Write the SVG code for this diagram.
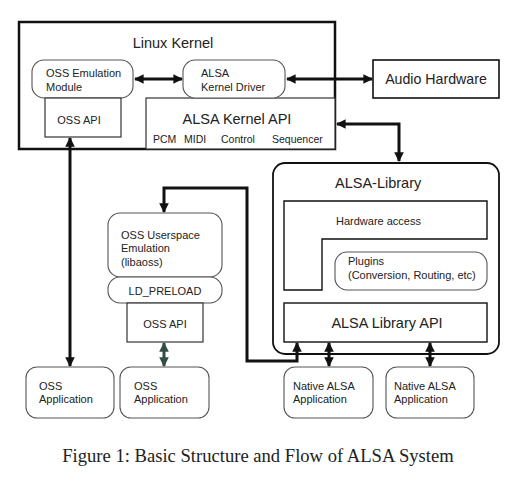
<svg xmlns="http://www.w3.org/2000/svg" width="520" height="486" viewBox="0 0 520 486">
<defs>
<style>
text{font-family:"Liberation Sans",Arial,sans-serif;fill:#222}
.thin{fill:#fff;stroke:#333;stroke-width:1.2}
.rnd{fill:#fff;stroke:#555;stroke-width:1.1}
.con{fill:none;stroke:#111;stroke-width:3}
.s{font-size:11px}
.m{font-size:14.5px}
</style>
<marker id="ah" viewBox="0 0 10 10" refX="9" refY="5" markerWidth="3.2" markerHeight="3.2" orient="auto-start-reverse"><path d="M0,0L10,5L0,10z" fill="#111"/></marker>
<marker id="ahg" viewBox="0 0 10 10" refX="9" refY="5" markerWidth="3.2" markerHeight="3.2" orient="auto-start-reverse"><path d="M0,0L10,5L0,10z" fill="#2f4f45"/></marker>
</defs>
<rect width="520" height="486" fill="#fff"/>

<g id="linux-kernel">
<rect x="19" y="22" width="316" height="127" fill="#fff" stroke="#111" stroke-width="2.5"/>
<text x="173" y="48" class="m" text-anchor="middle">Linux Kernel</text>
</g>
<g id="alsa-kernel-api">
<rect x="146" y="98" width="189" height="51" class="thin"/>
<text x="237" y="124" class="m" text-anchor="middle">ALSA Kernel API</text>
<text x="153" y="143" font-size="10.5">PCM</text>
<text x="184" y="143" font-size="10.5">MIDI</text>
<text x="221" y="143" font-size="10.5">Control</text>
<text x="272" y="143" font-size="10.5">Sequencer</text>
</g>
<g id="oss-emulation-module">
<rect x="32" y="60" width="101" height="38" rx="12" class="rnd"/>
<text x="46" y="77" class="s">OSS Emulation</text>
<text x="46" y="91" class="s">Module</text>
</g>
<g id="oss-api-kernel">
<rect x="45" y="98" width="76" height="39" class="thin"/>
<text x="79" y="124" class="s" text-anchor="middle">OSS API</text>
</g>
<g id="alsa-kernel-driver">
<rect x="183" y="60" width="102" height="38" rx="12" class="rnd"/>
<text x="201" y="77" class="s">ALSA</text>
<text x="201" y="91" class="s">Kernel Driver</text>
</g>
<g id="audio-hardware">
<rect x="373" y="60" width="126" height="38" fill="#fff" stroke="#111" stroke-width="1.6"/>
<text x="436" y="84" font-size="14.2" text-anchor="middle">Audio Hardware</text>
</g>

<g id="alsa-library">
<rect x="273" y="163" width="226" height="191" rx="12" fill="#fff" stroke="#111" stroke-width="1.8"/>
<text x="335" y="188" class="m">ALSA-Library</text>
</g>
<g id="hardware-access">
<path d="M284,201H487V239H322V290H284Z" fill="#fff" stroke="#111" stroke-width="1.4"/>
<text x="336" y="225" class="s">Hardware access</text>
</g>
<g id="plugins">
<rect x="335" y="252" width="152" height="38" rx="12" class="rnd"/>
<text x="348" y="265" class="s">Plugins</text>
<text x="348" y="279" class="s">(Conversion, Routing, etc)</text>
</g>
<g id="alsa-library-api">
<rect x="284" y="303" width="203" height="39" fill="#fff" stroke="#111" stroke-width="1.4"/>
<text x="387" y="328" class="m" text-anchor="middle">ALSA Library API</text>
</g>

<g id="oss-userspace-emulation">
<rect x="108" y="213" width="114" height="64" rx="12" class="rnd"/>
<text x="121" y="239" class="s">OSS Userspace</text>
<text x="121" y="252" class="s">Emulation</text>
<text x="121" y="266" class="s">(libaoss)</text>
</g>
<g id="ld-preload">
<rect x="108" y="277" width="114" height="26" rx="12" class="rnd"/>
<text x="165" y="295" class="s" text-anchor="middle">LD_PRELOAD</text>
</g>
<g id="oss-api-user">
<rect x="127" y="303" width="76" height="39" class="thin"/>
<text x="165" y="328" class="s" text-anchor="middle">OSS API</text>
</g>

<g id="oss-app-1">
<rect x="26" y="367" width="88" height="51" rx="11" class="rnd"/>
<text x="39" y="390" class="s">OSS</text>
<text x="39" y="403" class="s">Application</text>
</g>
<g id="oss-app-2">
<rect x="120" y="367" width="89" height="51" rx="11" class="rnd"/>
<text x="134" y="390" class="s">OSS</text>
<text x="134" y="403" class="s">Application</text>
</g>
<g id="native-alsa-app-1">
<rect x="284" y="367" width="89" height="51" rx="11" class="rnd"/>
<text x="293" y="390" class="s">Native ALSA</text>
<text x="293" y="403" class="s">Application</text>
</g>
<g id="native-alsa-app-2">
<rect x="386" y="367" width="88" height="51" rx="11" class="rnd"/>
<text x="394" y="390" class="s">Native ALSA</text>
<text x="394" y="403" class="s">Application</text>
</g>

<g id="connectors" class="con">
<line x1="135" y1="79" x2="182" y2="79" marker-start="url(#ah)" marker-end="url(#ah)"/>
<line x1="287" y1="79" x2="372" y2="79" marker-start="url(#ah)" marker-end="url(#ah)"/>
<path d="M337,124H399V161" marker-start="url(#ah)" marker-end="url(#ah)"/>
<line x1="70" y1="138" x2="70" y2="366" marker-start="url(#ah)" marker-end="url(#ah)"/>
<path d="M297,343V361H247V188H164V212" marker-start="url(#ah)" marker-end="url(#ah)"/>
<line x1="329" y1="343" x2="329" y2="366" marker-start="url(#ah)" marker-end="url(#ah)"/>
<line x1="430" y1="343" x2="430" y2="366" marker-start="url(#ah)" marker-end="url(#ah)"/>
<line x1="164" y1="343" x2="164" y2="366" stroke="#2f4f45" marker-start="url(#ahg)" marker-end="url(#ahg)"/>
</g>

<text x="258" y="462" font-size="18.6" text-anchor="middle" style="font-family:'Liberation Serif','Times New Roman',serif">Figure 1: Basic Structure and Flow of ALSA System</text>
</svg>
